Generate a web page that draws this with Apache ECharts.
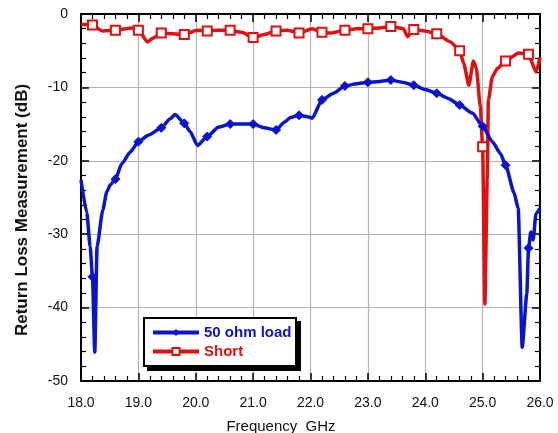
<!DOCTYPE html>
<html>
<head>
<meta charset="utf-8">
<script src="https://cdn.jsdelivr.net/npm/echarts@6/dist/echarts.min.js"></script>
<style>
  html, body { margin: 0; padding: 0; background: #fff; }
  #main { width: 558px; height: 433px; }
</style>
</head>
<body>
<div id="main"></div>
<script>
// frequency (GHz) and return loss (dB)
var loadFreq = [18.0, 18.1, 18.16, 18.2, 18.24, 18.28, 18.38, 18.45, 18.51, 18.6, 18.71, 18.86, 19.0, 19.18, 19.4, 19.55, 19.64, 19.8, 19.9, 20.03, 20.2, 20.4, 20.6, 20.8, 21.0, 21.19, 21.4, 21.55, 21.65, 21.8, 21.95, 22.03, 22.2, 22.4, 22.6, 22.8, 23.0, 23.2, 23.4, 23.6, 23.8, 24.0, 24.2, 24.4, 24.6, 24.82, 25.0, 25.17, 25.31, 25.4, 25.55, 25.62, 25.69, 25.77, 25.8, 25.84, 25.88, 25.93, 26.0];
var loadDb   = [-22.6, -27.0, -31.7, -35.8, -46.1, -31.7, -26.7, -24.2, -23.3, -22.5, -20.4, -18.8, -17.4, -16.5, -15.5, -14.3, -13.7, -14.9, -16.0, -17.9, -16.7, -15.4, -15.0, -15.0, -15.0, -15.5, -15.8, -14.7, -14.1, -13.8, -14.0, -14.2, -11.7, -10.8, -9.8, -9.5, -9.3, -9.2, -9.0, -9.3, -9.7, -10.3, -10.8, -11.5, -12.4, -13.5, -15.3, -17.4, -19.0, -20.6, -24.4, -26.5, -45.4, -38.1, -31.9, -29.7, -30.8, -27.2, -26.5];

var shortFreq = [18.0, 18.2, 18.37, 18.6, 18.89, 19.0, 19.16, 19.25, 19.4, 19.6, 19.8, 20.02, 20.2, 20.4, 20.6, 20.8, 21.0, 21.2, 21.4, 21.6, 21.8, 22.03, 22.2, 22.35, 22.6, 22.8, 23.0, 23.2, 23.4, 23.62, 23.69, 23.8, 24.0, 24.2, 24.44, 24.6, 24.67, 24.76, 24.84, 24.89, 24.96, 25.0, 25.04, 25.08, 25.1, 25.17, 25.26, 25.4, 25.63, 25.8, 25.93, 26.0];
var shortDb   = [-1.4, -1.5, -2.3, -2.2, -1.9, -2.2, -3.8, -3.3, -2.6, -2.7, -2.8, -2.2, -2.3, -2.2, -2.2, -2.5, -3.2, -2.8, -2.3, -2.2, -2.6, -2.0, -2.5, -2.6, -2.2, -2.0, -2.0, -1.9, -1.7, -2.0, -3.1, -2.1, -2.3, -2.7, -3.8, -5.0, -6.7, -9.7, -6.4, -7.4, -12.6, -18.1, -39.5, -22.6, -11.7, -8.5, -7.4, -6.4, -5.3, -5.5, -7.9, -5.9];

// frequencies that carry a marker symbol
var markerFreq = [18.2, 18.6, 19.0, 19.4, 19.8, 20.2, 20.6, 21.0, 21.4, 21.8, 22.2, 22.6, 23.0, 23.4, 23.8, 24.2, 24.6, 25.0, 25.4, 25.8];

var xTicks = ['18.0', '19.0', '20.0', '21.0', '22.0', '23.0', '24.0', '25.0', '26.0'];

function hasMarker(f) {
  return markerFreq.some(function (m) { return Math.abs(m - f) < 0.001; });
}
function buildData(freq, db) {
  return freq.map(function (f, i) {
    var item = { value: [f, db[i]] };
    if (!hasMarker(f)) item.symbol = 'none';
    return item;
  });
}

var blue = '#0a14cc';
var red = '#e01010';
var font = 'Liberation Sans, Arial, sans-serif';

var chart = echarts.init(document.getElementById('main'));

function xAx(pos, labels) {
  return {
    type: 'value', position: pos, min: 18, max: 26, interval: 1,
    axisLine: { show: true, onZero: false, lineStyle: { color: '#000', width: 2 } },
    axisTick: { show: true, inside: true, length: 8, lineStyle: { color: '#000', width: 1.5 } },
    minorTick: { show: true, splitNumber: 5, length: 5, lineStyle: { color: '#000', width: 1.2 } },
    axisLabel: {
      show: labels, margin: 15, color: '#111', fontSize: 14, fontFamily: font,
      formatter: function (v) { return xTicks[Math.round(v - 18)]; }
    },
    splitLine: { show: labels, lineStyle: { color: '#b4b4b4', width: 1.2 } }
  };
}
function yAx(pos, labels) {
  return {
    type: 'value', position: pos, min: -50, max: 0, interval: 10,
    axisLine: { show: true, onZero: false, lineStyle: { color: '#000', width: 2 } },
    axisTick: { show: true, inside: true, length: 8, lineStyle: { color: '#000', width: 1.5 } },
    minorTick: { show: true, splitNumber: 5, length: 5, lineStyle: { color: '#000', width: 1.2 } },
    axisLabel: { show: labels, margin: 13, color: '#111', fontSize: 14, fontFamily: font },
    splitLine: { show: labels, lineStyle: { color: '#b4b4b4', width: 1.2 } }
  };
}

chart.setOption({
  animation: false,
  backgroundColor: '#fff',
  grid: { left: 81, right: 18, top: 14, bottom: 52 },
  xAxis: [xAx('bottom', true), xAx('top', false)],
  yAxis: [yAx('left', true), yAx('right', false)],
  legend: {
    orient: 'vertical', left: 151, top: 325,
    padding: 0, itemGap: 4, itemWidth: 46, itemHeight: 9,
    lineStyle: { width: 4 },
    data: [
      { name: '50 ohm load', textStyle: { color: blue } },
      { name: 'Short', textStyle: { color: red } }
    ],
    textStyle: { fontSize: 15, fontWeight: 'bold', fontFamily: font, padding: [0, 0, 0, 0] },
    z: 20
  },
  graphic: [
    {
      type: 'rect', z: 10,
      shape: { x: 147, y: 321, width: 154, height: 50 },
      style: { fill: '#000' }
    },
    {
      type: 'rect', z: 11,
      shape: { x: 144, y: 318, width: 152, height: 48 },
      style: { fill: '#fff', stroke: '#000', lineWidth: 2 }
    },
    {
      type: 'text', x: 22, y: 210, rotation: Math.PI / 2,
      style: {
        text: 'Return Loss Measurement (dB)', fill: '#111',
        font: 'bold 17px ' + font, align: 'center', verticalAlign: 'middle'
      }
    },
    {
      type: 'text', x: 281, y: 427,
      style: {
        text: 'Frequency  GHz', fill: '#111',
        font: '15px ' + font, align: 'center', verticalAlign: 'middle'
      }
    }
  ],
  series: [
    {
      name: '50 ohm load', type: 'line',
      data: buildData(loadFreq, loadDb),
      smooth: 0.2, smoothMonotone: 'x',
      symbol: 'diamond', symbolSize: 9, showAllSymbol: true,
      lineStyle: { color: blue, width: 3.5 },
      itemStyle: { color: blue, borderColor: blue },
      z: 3
    },
    {
      name: 'Short', type: 'line',
      data: buildData(shortFreq, shortDb),
      smooth: 0.2, smoothMonotone: 'x',
      symbol: 'emptyRect', symbolSize: 9, showAllSymbol: true,
      lineStyle: { color: red, width: 3.5 },
      itemStyle: { color: red, borderColor: red, borderWidth: 1.2 },
      z: 2
    }
  ]
});
</script>
</body>
</html>
